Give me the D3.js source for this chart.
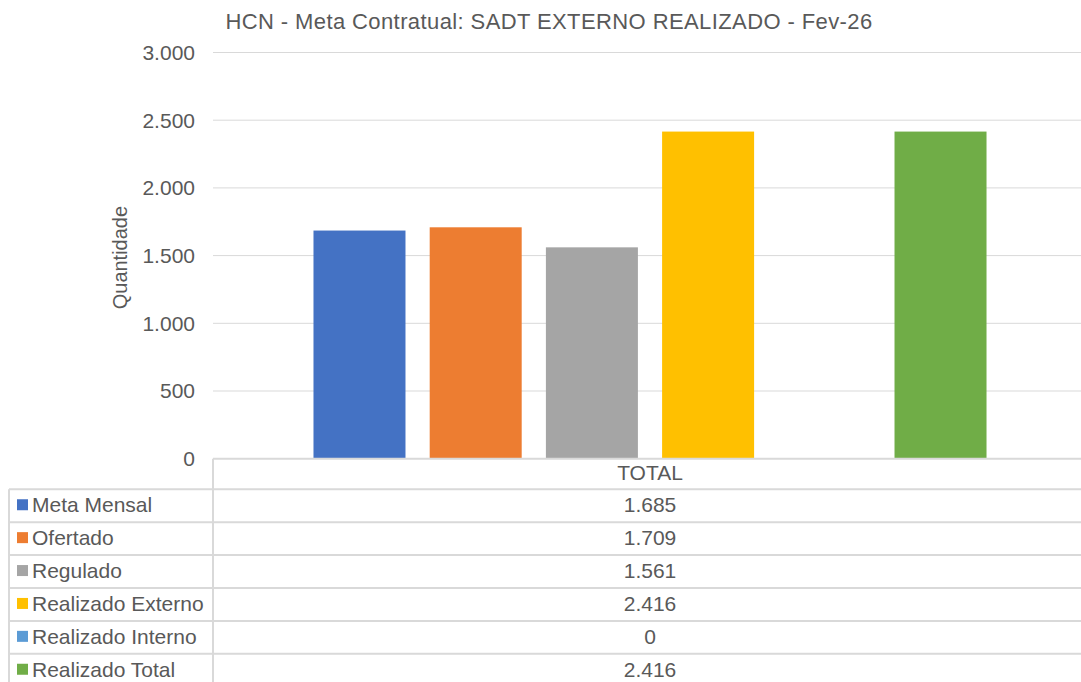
<!DOCTYPE html>
<html>
<head>
<meta charset="utf-8">
<script src="https://cdn.jsdelivr.net/npm/d3@7"></script>
<style>
  html, body { margin: 0; padding: 0; background: #fff; }
  svg { display: block; font-family: "Liberation Sans", Arial, sans-serif; }
</style>
</head>
<body>
<svg id="chart" width="1081" height="682"></svg>
<script>
const title = "HCN - Meta Contratual: SADT EXTERNO REALIZADO - Fev-26";
const categories = ["TOTAL"];
const seriesNames = ["Meta Mensal", "Ofertado", "Regulado", "Realizado Externo", "Realizado Interno", "Realizado Total"];
const seriesValues = [1685, 1709, 1561, 2416, 0, 2416];
const seriesColors = ["#4472c4", "#ed7d31", "#a5a5a5", "#ffc000", "#5b9bd5", "#70ad47"];
const yTicks = [0, 500, 1000, 1500, 2000, 2500, 3000];
const yAxisTitle = "Quantidade";

const svg = d3.select("#chart");
const textColor = "#595959";
const gridColor = "#d9d9d9";
const fmt = v => d3.format(",")(v).replace(/,/g, ".");

const plotLeft = 213, plotRight = 1087, plotTop = 52.5, plotBottom = 458.7;

const y = d3.scaleLinear().domain([0, 3000]).range([plotBottom, plotTop]);
const x0 = d3.scaleBand().domain(categories).range([plotLeft, plotRight]).paddingInner(0).paddingOuter(0.1493);
const x1 = d3.scaleBand().domain(seriesNames).range([0, x0.bandwidth()]).paddingInner(0.2083).paddingOuter(0);

// gridlines
svg.append("g").selectAll("line").data(yTicks.filter(d => d > 0)).join("line")
  .attr("x1", plotLeft).attr("x2", 1081)
  .attr("y1", d => y(d)).attr("y2", d => y(d))
  .attr("stroke", gridColor).attr("stroke-width", 1);

// y tick labels
svg.append("g").selectAll("text").data(yTicks).join("text")
  .attr("x", 195).attr("y", d => y(d)).attr("dy", "0.35em")
  .attr("text-anchor", "end").attr("fill", textColor).attr("font-size", 21)
  .text(d => fmt(d));

// y axis title
svg.append("text")
  .attr("transform", `translate(127,${(plotTop + plotBottom) / 2 + 2}) rotate(-90)`)
  .attr("text-anchor", "middle").attr("fill", textColor).attr("font-size", 20)
  .text(yAxisTitle);

// title
svg.append("text")
  .attr("x", 549).attr("y", 29)
  .attr("text-anchor", "middle").attr("fill", textColor).attr("font-size", 22)
  .attr("letter-spacing", 0.4)
  .text(title);

// bars
const groups = svg.append("g").selectAll("g").data(categories).join("g")
  .attr("transform", d => `translate(${x0(d)},0)`);
groups.selectAll("rect").data((c, ci) => seriesNames.map((s, i) => ({ s, v: seriesValues[i], c: seriesColors[i] }))).join("rect")
  .attr("x", d => x1(d.s)).attr("width", x1.bandwidth())
  .attr("y", d => y(d.v)).attr("height", d => y(0) - y(d.v))
  .attr("fill", d => d.c);

// data table
const tableLeft = 9, tableRight = 1081;
const headerTop = plotBottom, headerBottom = 489.3, rowH = 32.9;
const tbl = svg.append("g");
const lineStyle = sel => sel.attr("stroke", gridColor).attr("stroke-width", 2);

tbl.append("line").attr("x1", plotLeft).attr("x2", tableRight).attr("y1", headerTop).attr("y2", headerTop).call(lineStyle);
const rowTops = seriesNames.map((s, i) => headerBottom + i * rowH);
tbl.selectAll("line.row").data(rowTops.concat([headerBottom + seriesNames.length * rowH])).join("line")
  .attr("class", "row")
  .attr("x1", tableLeft).attr("x2", tableRight)
  .attr("y1", d => d).attr("y2", d => d).call(lineStyle);
tbl.append("line").attr("x1", plotLeft).attr("x2", plotLeft).attr("y1", headerTop).attr("y2", 700).call(lineStyle);
tbl.append("line").attr("x1", tableLeft).attr("x2", tableLeft).attr("y1", headerBottom).attr("y2", 700).call(lineStyle);

tbl.selectAll("text.cat").data(categories).join("text").attr("class", "cat")
  .attr("x", d => x0(d) + x0.bandwidth() / 2).attr("y", (headerTop + headerBottom) / 2 - 1).attr("dy", "0.35em")
  .attr("text-anchor", "middle").attr("fill", textColor).attr("font-size", 21)
  .text(d => d);

const rows = tbl.selectAll("g.rowg").data(seriesNames).join("g").attr("class", "rowg")
  .attr("transform", (d, i) => `translate(0,${headerBottom + i * rowH + rowH / 2})`);
rows.append("rect").attr("x", 17).attr("y", -6.5).attr("width", 11).attr("height", 11)
  .attr("fill", (d, i) => seriesColors[i]);
rows.append("text").attr("x", 32).attr("y", -1).attr("dy", "0.35em")
  .attr("fill", textColor).attr("font-size", 21).text(d => d);
rows.append("text").attr("x", x0(categories[0]) + x0.bandwidth() / 2).attr("y", -1).attr("dy", "0.35em")
  .attr("text-anchor", "middle").attr("fill", textColor).attr("font-size", 21)
  .text((d, i) => fmt(seriesValues[i]));
</script>
</body>
</html>
